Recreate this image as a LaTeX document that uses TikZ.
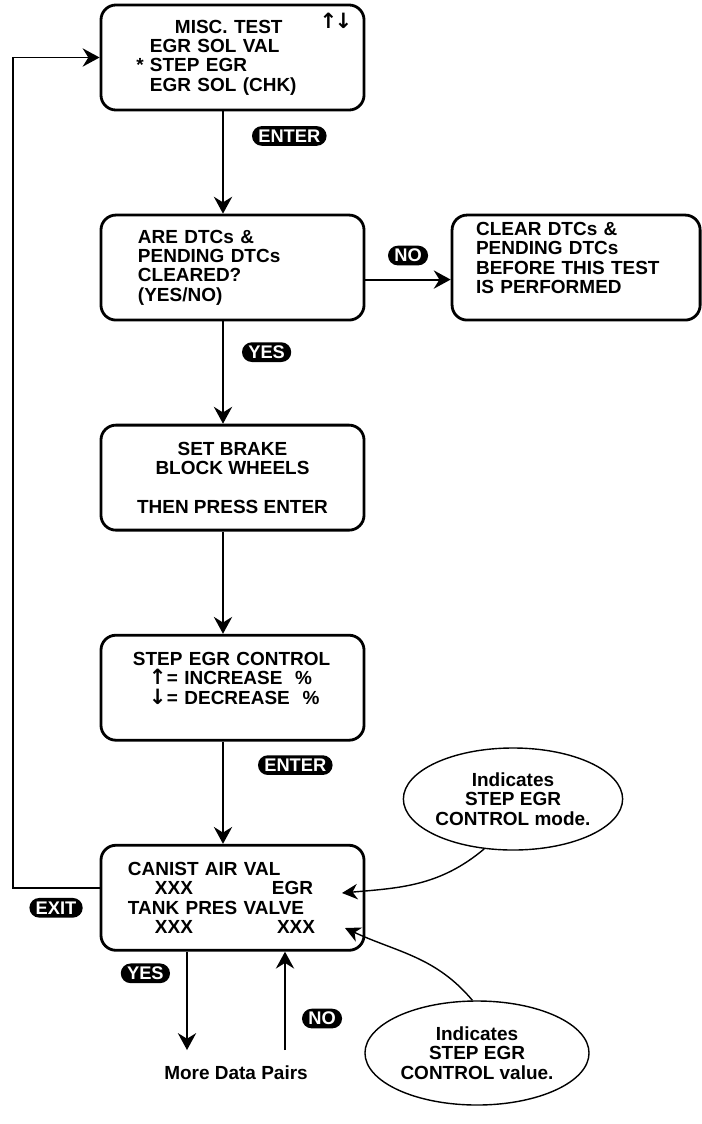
\documentclass[tikz,border=0pt]{standalone}
\usepackage{fontspec}
\setmainfont{Liberation Sans}
\newfontfamily\arrowfont{DejaVu Sans}
\usetikzlibrary{arrows.meta,shapes.geometric,positioning}

\newcommand\upkey{{\arrowfont\bfseries\fontsize{15}{13.8}\selectfont ↑}}
\newcommand\downkey{{\arrowfont\bfseries\fontsize{15}{13.8}\selectfont ↓}}

\begin{document}
\begin{tikzpicture}[x=0.025cm, y=0.025cm,
  node distance=2.555cm and 2.13cm,
  font=\bfseries\fontsize{13.5}{13.8}\selectfont,
  scr/.style={draw,line width=2pt,rounded corners=0.375cm,minimum width=6.575cm,minimum height=2.625cm,inner sep=0pt,align=left},
  key/.style={fill=black,text=white,rounded corners=7pt,inner xsep=4.5pt,inner ysep=0pt,minimum height=14pt,font=\bfseries\fontsize{13}{13}\selectfont},
  note/.style={draw,ellipse,line width=1pt,inner sep=0pt,align=center},
  arr/.style={-{Stealth[length=12pt,width=13pt,inset=4pt]},line width=1.4pt},
  ptr/.style={-{Stealth[length=11pt,width=11pt,inset=3.5pt]},line width=1pt}]
\useasboundingbox (0,0) rectangle (702,-1124);
\coordinate (spine) at (223,0);
\node[scr,text width=4.125cm](misc) at (232.5,-57.5){\hspace*{0.625cm}MISC. TEST\\EGR SOL VAL\\\leavevmode\llap{* }STEP EGR\\EGR SOL (CHK)};
\node(scroll) at (336,-21){\upkey\kern-2pt\downkey};
\node[scr,text width=4.725cm,below=of misc](dtcq){ARE DTCs \&\\PENDING DTCs\\CLEARED?\\(YES/NO)};
\node[scr,minimum width=6.2cm,text width=5cm,right=of dtcq](clear){CLEAR DTCs \&\\PENDING DTCs\\BEFORE THIS TEST\\IS PERFORMED\\\mbox{}};
\node[scr,align=center,below=of dtcq](brake){SET BRAKE\\BLOCK WHEELS\\[13.8pt]THEN PRESS ENTER};
\node[scr,text width=4.975cm,below=of brake](step){STEP EGR CONTROL\\\hspace*{0.4cm}\makebox[0.45cm][l]{\upkey}= INCREASE\ \ \%\\\hspace*{0.4cm}\makebox[0.45cm][l]{\downkey}= DECREASE\ \ \%\\\mbox{}};
\node[scr,text width=5.225cm,below=of step](data){CANIST AIR VAL\\\makebox[4.625cm][l]{\hspace{0.675cm}XXX\hfill EGR}\\TANK PRES VALVE\\\makebox[4.675cm][l]{\hspace{0.675cm}XXX\hfill XXX}};
\node(more) at (236,-1073){More Data Pairs};
\node[note,minimum width=5.25cm,minimum height=2.55cm](modenote) at (513,-799){Indicates\\STEP EGR\\CONTROL mode.};
\node[note,minimum width=5.6cm,minimum height=2.6cm](valnote) at (477,-1053){Indicates\\STEP EGR\\CONTROL value.};
\coordinate(yesend) at (187,-1050);
\coordinate(noend) at (285,-1050);
\coordinate(egrtip) at (342,-893);
\coordinate(xxxtip) at (345,-928);
\draw[arr](misc.south -| spine)--node[key,pos=.24,right=0.7cm]{ENTER}(dtcq.north -| spine);
\draw[arr]([yshift=-0.3cm]dtcq.east)--node[key,above=0.33cm]{NO}([yshift=-0.3cm]clear.west);
\draw[arr](dtcq.south -| spine)--node[key,pos=.3,right=0.45cm]{YES}(brake.north -| spine);
\draw[arr](brake.south -| spine)--(step.north -| spine);
\draw[arr](step.south -| spine)--node[key,pos=.23,right=0.85cm]{ENTER}(data.north -| spine);
\draw[arr]([yshift=0.24cm]data.west)--node[key,below=0.22cm]{EXIT}++(-87,0)|-(misc.west);
\draw[arr](data.south -| yesend)--node[key,pos=.22,left=0.4cm]{YES}(yesend);
\draw[arr](noend)--node[key,pos=.32,right=0.4cm]{NO}(data.south -| noend);
\draw[ptr](modenote.240)to[out=-140,in=5](egrtip);
\draw[ptr](valnote.95)to[out=130,in=-25](xxxtip);
\end{tikzpicture}
\end{document}
